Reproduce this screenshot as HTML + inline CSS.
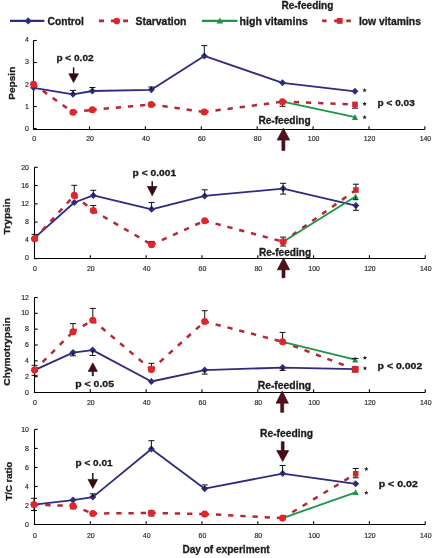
<!DOCTYPE html>
<html><head><meta charset="utf-8"><style>
html,body{margin:0;padding:0;background:#fff;width:435px;height:558px;overflow:hidden}
svg{display:block;will-change:transform}
</style></head><body>
<svg width="435" height="558" viewBox="0 0 435 558" font-family='"Liberation Sans", sans-serif'>
<rect width="435" height="558" fill="#fff"/>
<path d="M10.00 20.90L44.30 20.90" stroke="#2d2c7f" stroke-width="2.1" fill="none" stroke-linejoin="round"/>
<path d="M28.20 17.30L31.80 20.90L28.20 24.50L24.60 20.90Z" fill="#2d2c7f"/>
<text x="47.50" y="24.50" font-size="10.2" font-weight="bold" text-anchor="start" fill="#1b1b1b" stroke="#1b1b1b" stroke-width="0.3" textLength="36.4" lengthAdjust="spacingAndGlyphs">Control</text>
<path d="M98.90 20.90L128.00 20.90" stroke="#b82634" stroke-width="2.6" fill="none" stroke-dasharray="5.1 7" stroke-dashoffset="0"/>
<circle cx="116.80" cy="21.10" r="3.3" fill="#e1252b"/>
<text x="135.50" y="24.50" font-size="10.2" font-weight="bold" text-anchor="start" fill="#1b1b1b" stroke="#1b1b1b" stroke-width="0.3" textLength="51" lengthAdjust="spacingAndGlyphs">Starvation</text>
<path d="M201.90 20.90L237.40 20.90" stroke="#1d9446" stroke-width="2.2" fill="none" stroke-linejoin="round"/>
<path d="M219.80 17.50L223.10 23.40L216.50 23.40Z" fill="#1d9446"/>
<text x="239.60" y="24.50" font-size="10.2" font-weight="bold" text-anchor="start" fill="#1b1b1b" stroke="#1b1b1b" stroke-width="0.3" textLength="68.2" lengthAdjust="spacingAndGlyphs">high vitamins</text>
<path d="M322.10 20.90L351.00 20.90" stroke="#b82634" stroke-width="2.6" fill="none" stroke-dasharray="4.5 7.6" stroke-dashoffset="0"/>
<rect x="336.80" y="18.00" width="5.8" height="5.8" fill="#d0262e"/>
<text x="358.90" y="24.50" font-size="10.2" font-weight="bold" text-anchor="start" fill="#1b1b1b" stroke="#1b1b1b" stroke-width="0.3" textLength="62" lengthAdjust="spacingAndGlyphs">low vitamins</text>
<text x="281.40" y="9.30" font-size="10.2" font-weight="bold" text-anchor="start" fill="#1b1b1b" stroke="#1b1b1b" stroke-width="0.3" textLength="52" lengthAdjust="spacingAndGlyphs">Re-feeding</text>
<path d="M33.5 40.50V129.5H424.90" stroke="#000" stroke-width="1.1" fill="none"/>
<path d="M33.5 128.50H36.70" stroke="#000" stroke-width="1.1"/>
<text transform="translate(28.90 131.10) scale(1.1 1)" font-size="6.3" text-anchor="end" fill="#262626" stroke="#262626" stroke-width="0.15">0</text>
<path d="M33.5 106.50H36.70" stroke="#000" stroke-width="1.1"/>
<text transform="translate(28.90 108.80) scale(1.1 1)" font-size="6.3" text-anchor="end" fill="#262626" stroke="#262626" stroke-width="0.15">1</text>
<path d="M33.5 84.50H36.70" stroke="#000" stroke-width="1.1"/>
<text transform="translate(28.90 86.50) scale(1.1 1)" font-size="6.3" text-anchor="end" fill="#262626" stroke="#262626" stroke-width="0.15">2</text>
<path d="M33.5 62.50H36.70" stroke="#000" stroke-width="1.1"/>
<text transform="translate(28.90 64.20) scale(1.1 1)" font-size="6.3" text-anchor="end" fill="#262626" stroke="#262626" stroke-width="0.15">3</text>
<path d="M33.5 40.50H36.70" stroke="#000" stroke-width="1.1"/>
<text transform="translate(28.90 41.90) scale(1.1 1)" font-size="6.3" text-anchor="end" fill="#262626" stroke="#262626" stroke-width="0.15">4</text>
<text transform="translate(34.10 140.75) scale(1.1 1)" font-size="6.3" text-anchor="middle" fill="#262626" stroke="#262626" stroke-width="0.15">0</text>
<path d="M89.50 129.5V126.30" stroke="#000" stroke-width="1.1"/>
<text transform="translate(90.00 140.75) scale(1.1 1)" font-size="6.3" text-anchor="middle" fill="#262626" stroke="#262626" stroke-width="0.15">20</text>
<path d="M145.40 129.5V126.30" stroke="#000" stroke-width="1.1"/>
<text transform="translate(145.90 140.75) scale(1.1 1)" font-size="6.3" text-anchor="middle" fill="#262626" stroke="#262626" stroke-width="0.15">40</text>
<path d="M201.30 129.5V126.30" stroke="#000" stroke-width="1.1"/>
<text transform="translate(201.80 140.75) scale(1.1 1)" font-size="6.3" text-anchor="middle" fill="#262626" stroke="#262626" stroke-width="0.15">60</text>
<path d="M257.20 129.5V126.30" stroke="#000" stroke-width="1.1"/>
<text transform="translate(257.70 140.75) scale(1.1 1)" font-size="6.3" text-anchor="middle" fill="#262626" stroke="#262626" stroke-width="0.15">80</text>
<path d="M313.10 129.5V126.30" stroke="#000" stroke-width="1.1"/>
<text transform="translate(313.60 140.75) scale(1.1 1)" font-size="6.3" text-anchor="middle" fill="#262626" stroke="#262626" stroke-width="0.15">100</text>
<path d="M369.00 129.5V126.30" stroke="#000" stroke-width="1.1"/>
<text transform="translate(369.50 140.75) scale(1.1 1)" font-size="6.3" text-anchor="middle" fill="#262626" stroke="#262626" stroke-width="0.15">120</text>
<path d="M424.90 129.5V126.30" stroke="#000" stroke-width="1.1"/>
<text transform="translate(425.40 140.75) scale(1.1 1)" font-size="6.3" text-anchor="middle" fill="#262626" stroke="#262626" stroke-width="0.15">140</text>
<text transform="translate(15.20 83.20) rotate(-90)" x="0" y="0" font-size="9.5" font-weight="bold" text-anchor="middle" fill="#1b1b1b" stroke="#1b1b1b" stroke-width="0.3" textLength="33.0" lengthAdjust="spacingAndGlyphs">Pepsin</text>
<path d="M33.60 87.80L73.00 94.30L92.40 91.00L151.30 89.80L204.30 55.90L282.50 82.80L355.00 91.30" stroke="#2d2c7f" stroke-width="1.8" fill="none" stroke-linejoin="round"/>
<path d="M33.60 84.30L37.10 87.80L33.60 91.30L30.10 87.80Z" fill="#2d2c7f"/>
<path d="M73.00 90.80L76.50 94.30L73.00 97.80L69.50 94.30Z" fill="#2d2c7f"/>
<path d="M92.40 87.50L95.90 91.00L92.40 94.50L88.90 91.00Z" fill="#2d2c7f"/>
<path d="M151.30 86.30L154.80 89.80L151.30 93.30L147.80 89.80Z" fill="#2d2c7f"/>
<path d="M204.30 52.40L207.80 55.90L204.30 59.40L200.80 55.90Z" fill="#2d2c7f"/>
<path d="M282.50 79.30L286.00 82.80L282.50 86.30L279.00 82.80Z" fill="#2d2c7f"/>
<path d="M355.00 87.80L358.50 91.30L355.00 94.80L351.50 91.30Z" fill="#2d2c7f"/>
<path d="M73.00 94.30V90.40M70.00 90.40H76.00" stroke="#111" stroke-width="1" fill="none"/>
<path d="M92.40 91.00V87.50M89.40 87.50H95.40" stroke="#111" stroke-width="1" fill="none"/>
<path d="M151.30 89.80V87.00M148.30 87.00H154.30" stroke="#111" stroke-width="1" fill="none"/>
<path d="M204.30 55.90V45.60M201.30 45.60H207.30" stroke="#111" stroke-width="1" fill="none"/>
<path d="M33.60 84.30L73.00 112.30" stroke="#b82634" stroke-width="2.5" fill="none" stroke-dasharray="5.3 6.9" stroke-dashoffset="0.95"/>
<path d="M73.00 112.30L92.40 109.80" stroke="#b82634" stroke-width="2.5" fill="none" stroke-dasharray="5.3 6.9" stroke-dashoffset="0.95"/>
<path d="M92.40 109.80L151.30 104.50" stroke="#b82634" stroke-width="2.5" fill="none" stroke-dasharray="5.3 6.9" stroke-dashoffset="0.95"/>
<path d="M151.30 104.50L204.30 112.00" stroke="#b82634" stroke-width="2.5" fill="none" stroke-dasharray="5.3 6.9" stroke-dashoffset="0.95"/>
<path d="M204.30 112.00L282.50 101.70" stroke="#b82634" stroke-width="2.5" fill="none" stroke-dasharray="5.3 6.9" stroke-dashoffset="0.95"/>
<path d="M282.50 101.70L350.00 104.21" stroke="#b82634" stroke-width="2.5" fill="none" stroke-dasharray="5.3 6.9" stroke-dashoffset="0.95"/>
<path d="M282.50 101.70L355.00 117.20" stroke="#1d9446" stroke-width="1.8" fill="none" stroke-linejoin="round"/>
<path d="M282.50 101.70V106.30M279.50 106.30H285.50" stroke="#111" stroke-width="1" fill="none"/>
<circle cx="33.60" cy="84.30" r="3.55" fill="#e1252b"/>
<circle cx="73.00" cy="112.30" r="3.55" fill="#e1252b"/>
<circle cx="92.40" cy="109.80" r="3.55" fill="#e1252b"/>
<circle cx="151.30" cy="104.50" r="3.55" fill="#e1252b"/>
<circle cx="204.30" cy="112.00" r="3.55" fill="#e1252b"/>
<circle cx="282.50" cy="101.70" r="3.55" fill="#e1252b"/>
<path d="M355.00 114.10L358.10 120.00L351.90 120.00Z" fill="#1d9446"/>
<path d="M355.00 104.40V108.20M352.00 108.20H358.00" stroke="#111" stroke-width="1" fill="none"/>
<rect x="352.20" y="101.60" width="5.6" height="5.6" fill="#d0262e"/>
<path d="M364.60 87.90L365.19 89.49L366.88 89.56L365.55 90.61L366.01 92.24L364.60 91.30L363.19 92.24L363.65 90.61L362.32 89.56L364.01 89.49Z" fill="#1a1a1a"/>
<path d="M364.60 101.50L365.19 103.09L366.88 103.16L365.55 104.21L366.01 105.84L364.60 104.90L363.19 105.84L363.65 104.21L362.32 103.16L364.01 103.09Z" fill="#1a1a1a"/>
<path d="M364.60 114.80L365.19 116.39L366.88 116.46L365.55 117.51L366.01 119.14L364.60 118.20L363.19 119.14L363.65 117.51L362.32 116.46L364.01 116.39Z" fill="#1a1a1a"/>
<text x="377.60" y="106.30" font-size="9.3" font-weight="bold" text-anchor="start" fill="#1b1b1b" stroke="#1b1b1b" stroke-width="0.3" textLength="37.2" lengthAdjust="spacingAndGlyphs">p &lt; 0.03</text>
<text x="56.40" y="60.60" font-size="9.3" font-weight="bold" text-anchor="start" fill="#1b1b1b" stroke="#1b1b1b" stroke-width="0.3" textLength="37.2" lengthAdjust="spacingAndGlyphs">p &lt; 0.02</text>
<rect x="72.90" y="67.40" width="1.4" height="6.80" fill="#111"/>
<path d="M68.80 73.70L78.40 73.70L73.60 82.60Z" fill="#3a0810" stroke="#24040a" stroke-width="0.6" stroke-linejoin="round"/>
<text x="258.40" y="123.70" font-size="10.2" font-weight="bold" text-anchor="start" fill="#1b1b1b" stroke="#1b1b1b" stroke-width="0.3" textLength="52.3" lengthAdjust="spacingAndGlyphs">Re-feeding</text>
<path d="M283.40 128.20L289.70 140.10L284.90 140.10L284.90 150.40L281.90 150.40L281.90 140.10L277.10 140.10Z" fill="#55101b" stroke="#24040a" stroke-width="0.6" stroke-linejoin="round"/>
<path d="M34.5 167.30V258.5H425.24" stroke="#000" stroke-width="1.1" fill="none"/>
<path d="M34.5 258.60H37.70" stroke="#000" stroke-width="1.1"/>
<text transform="translate(28.90 260.30) scale(1.1 1)" font-size="6.3" text-anchor="end" fill="#262626" stroke="#262626" stroke-width="0.15">0</text>
<path d="M34.5 240.34H37.70" stroke="#000" stroke-width="1.1"/>
<text transform="translate(28.90 242.22) scale(1.1 1)" font-size="6.3" text-anchor="end" fill="#262626" stroke="#262626" stroke-width="0.15">4</text>
<path d="M34.5 222.08H37.70" stroke="#000" stroke-width="1.1"/>
<text transform="translate(28.90 224.14) scale(1.1 1)" font-size="6.3" text-anchor="end" fill="#262626" stroke="#262626" stroke-width="0.15">8</text>
<path d="M34.5 203.82H37.70" stroke="#000" stroke-width="1.1"/>
<text transform="translate(28.90 206.06) scale(1.1 1)" font-size="6.3" text-anchor="end" fill="#262626" stroke="#262626" stroke-width="0.15">12</text>
<path d="M34.5 185.56H37.70" stroke="#000" stroke-width="1.1"/>
<text transform="translate(28.90 187.98) scale(1.1 1)" font-size="6.3" text-anchor="end" fill="#262626" stroke="#262626" stroke-width="0.15">16</text>
<path d="M34.5 167.30H37.70" stroke="#000" stroke-width="1.1"/>
<text transform="translate(28.90 169.90) scale(1.1 1)" font-size="6.3" text-anchor="end" fill="#262626" stroke="#262626" stroke-width="0.15">20</text>
<text transform="translate(35.00 270.75) scale(1.1 1)" font-size="6.3" text-anchor="middle" fill="#262626" stroke="#262626" stroke-width="0.15">0</text>
<path d="M90.32 258.5V255.30" stroke="#000" stroke-width="1.1"/>
<text transform="translate(90.82 270.75) scale(1.1 1)" font-size="6.3" text-anchor="middle" fill="#262626" stroke="#262626" stroke-width="0.15">20</text>
<path d="M146.14 258.5V255.30" stroke="#000" stroke-width="1.1"/>
<text transform="translate(146.64 270.75) scale(1.1 1)" font-size="6.3" text-anchor="middle" fill="#262626" stroke="#262626" stroke-width="0.15">40</text>
<path d="M201.96 258.5V255.30" stroke="#000" stroke-width="1.1"/>
<text transform="translate(202.46 270.75) scale(1.1 1)" font-size="6.3" text-anchor="middle" fill="#262626" stroke="#262626" stroke-width="0.15">60</text>
<path d="M257.78 258.5V255.30" stroke="#000" stroke-width="1.1"/>
<text transform="translate(258.28 270.75) scale(1.1 1)" font-size="6.3" text-anchor="middle" fill="#262626" stroke="#262626" stroke-width="0.15">80</text>
<path d="M313.60 258.5V255.30" stroke="#000" stroke-width="1.1"/>
<text transform="translate(314.10 270.75) scale(1.1 1)" font-size="6.3" text-anchor="middle" fill="#262626" stroke="#262626" stroke-width="0.15">100</text>
<path d="M369.42 258.5V255.30" stroke="#000" stroke-width="1.1"/>
<text transform="translate(369.92 270.75) scale(1.1 1)" font-size="6.3" text-anchor="middle" fill="#262626" stroke="#262626" stroke-width="0.15">120</text>
<path d="M425.24 258.5V255.30" stroke="#000" stroke-width="1.1"/>
<text transform="translate(425.74 270.75) scale(1.1 1)" font-size="6.3" text-anchor="middle" fill="#262626" stroke="#262626" stroke-width="0.15">140</text>
<text transform="translate(10.30 216.30) rotate(-90)" x="0" y="0" font-size="9.5" font-weight="bold" text-anchor="middle" fill="#1b1b1b" stroke="#1b1b1b" stroke-width="0.3" textLength="36.2" lengthAdjust="spacingAndGlyphs">Trypsin</text>
<path d="M34.60 237.90L74.30 202.50L93.30 195.40L151.60 209.30L204.70 195.90L283.10 188.60L355.90 205.60" stroke="#2d2c7f" stroke-width="1.8" fill="none" stroke-linejoin="round"/>
<path d="M34.60 234.40L38.10 237.90L34.60 241.40L31.10 237.90Z" fill="#2d2c7f"/>
<path d="M74.30 199.00L77.80 202.50L74.30 206.00L70.80 202.50Z" fill="#2d2c7f"/>
<path d="M93.30 191.90L96.80 195.40L93.30 198.90L89.80 195.40Z" fill="#2d2c7f"/>
<path d="M151.60 205.80L155.10 209.30L151.60 212.80L148.10 209.30Z" fill="#2d2c7f"/>
<path d="M204.70 192.40L208.20 195.90L204.70 199.40L201.20 195.90Z" fill="#2d2c7f"/>
<path d="M283.10 185.10L286.60 188.60L283.10 192.10L279.60 188.60Z" fill="#2d2c7f"/>
<path d="M355.90 202.10L359.40 205.60L355.90 209.10L352.40 205.60Z" fill="#2d2c7f"/>
<path d="M34.60 237.90V234.40M31.60 234.40H37.60" stroke="#111" stroke-width="1" fill="none"/>
<path d="M93.30 195.40V190.30M90.30 190.30H96.30" stroke="#111" stroke-width="1" fill="none"/>
<path d="M151.60 209.30V202.50M148.60 202.50H154.60" stroke="#111" stroke-width="1" fill="none"/>
<path d="M204.70 195.90V189.80M201.70 189.80H207.70" stroke="#111" stroke-width="1" fill="none"/>
<path d="M283.10 188.60V183.30M280.10 183.30H286.10" stroke="#111" stroke-width="1" fill="none"/>
<path d="M283.10 188.60V194.10M280.10 194.10H286.10" stroke="#111" stroke-width="1" fill="none"/>
<path d="M355.90 205.60V210.30M352.90 210.30H358.90" stroke="#111" stroke-width="1" fill="none"/>
<path d="M34.60 238.80L74.30 195.40" stroke="#b82634" stroke-width="2.5" fill="none" stroke-dasharray="5.3 6.9" stroke-dashoffset="0.95"/>
<path d="M74.30 195.40L93.30 210.60" stroke="#b82634" stroke-width="2.5" fill="none" stroke-dasharray="5.3 6.9" stroke-dashoffset="0.95"/>
<path d="M93.30 210.60L151.60 244.70" stroke="#b82634" stroke-width="2.5" fill="none" stroke-dasharray="5.3 6.9" stroke-dashoffset="0.95"/>
<path d="M151.60 244.70L204.70 220.70" stroke="#b82634" stroke-width="2.5" fill="none" stroke-dasharray="5.3 6.9" stroke-dashoffset="0.95"/>
<path d="M204.70 220.70L283.10 241.70" stroke="#b82634" stroke-width="2.5" fill="none" stroke-dasharray="5.3 6.9" stroke-dashoffset="0.95"/>
<path d="M283.10 241.70L355.90 190.00" stroke="#b82634" stroke-width="2.5" fill="none" stroke-dasharray="5.3 6.9" stroke-dashoffset="0.95"/>
<path d="M283.10 241.70L355.60 196.50" stroke="#1d9446" stroke-width="1.8" fill="none" stroke-linejoin="round"/>
<path d="M74.30 195.40V185.30M71.30 185.30H77.30" stroke="#111" stroke-width="1" fill="none"/>
<path d="M93.30 210.60V205.50M90.30 205.50H96.30" stroke="#111" stroke-width="1" fill="none"/>
<path d="M151.60 244.70V241.40M148.60 241.40H154.60" stroke="#111" stroke-width="1" fill="none"/>
<path d="M283.10 241.70V237.10M280.10 237.10H286.10" stroke="#111" stroke-width="1" fill="none"/>
<path d="M283.10 241.70V246.00M280.10 246.00H286.10" stroke="#111" stroke-width="1" fill="none"/>
<circle cx="34.60" cy="238.80" r="3.55" fill="#e1252b"/>
<circle cx="74.30" cy="195.40" r="3.55" fill="#e1252b"/>
<circle cx="93.30" cy="210.60" r="3.55" fill="#e1252b"/>
<circle cx="151.60" cy="244.70" r="3.55" fill="#e1252b"/>
<circle cx="204.70" cy="220.70" r="3.55" fill="#e1252b"/>
<circle cx="283.10" cy="241.70" r="3.55" fill="#e1252b"/>
<path d="M355.60 193.40L358.70 199.30L352.50 199.30Z" fill="#1d9446"/>
<path d="M355.60 196.50V199.70M352.90 199.70H358.30" stroke="#111" stroke-width="1" fill="none"/>
<path d="M355.90 190.00V184.20M352.90 184.20H358.90" stroke="#111" stroke-width="1" fill="none"/>
<rect x="353.10" y="187.20" width="5.6" height="5.6" fill="#d0262e"/>
<text x="132.60" y="176.10" font-size="9.3" font-weight="bold" text-anchor="start" fill="#1b1b1b" stroke="#1b1b1b" stroke-width="0.3" textLength="43.5" lengthAdjust="spacingAndGlyphs">p &lt; 0.001</text>
<rect x="151.50" y="181.20" width="1.4" height="5.80" fill="#111"/>
<path d="M147.40 186.50L157.00 186.50L152.20 195.80Z" fill="#3a0810" stroke="#24040a" stroke-width="0.6" stroke-linejoin="round"/>
<text x="258.90" y="256.10" font-size="10.2" font-weight="bold" text-anchor="start" fill="#1b1b1b" stroke="#1b1b1b" stroke-width="0.3" textLength="52.3" lengthAdjust="spacingAndGlyphs">Re-feeding</text>
<path d="M283.50 258.00L289.70 269.80L285.00 269.80L285.00 277.80L282.00 277.80L282.00 269.80L277.30 269.80Z" fill="#55101b" stroke="#24040a" stroke-width="0.6" stroke-linejoin="round"/>
<path d="M34.5 297.50V392.5H425.24" stroke="#000" stroke-width="1.1" fill="none"/>
<path d="M34.5 392.50H37.70" stroke="#000" stroke-width="1.1"/>
<text transform="translate(28.90 394.65) scale(1.1 1)" font-size="6.3" text-anchor="end" fill="#262626" stroke="#262626" stroke-width="0.15">0</text>
<path d="M34.5 376.67H37.70" stroke="#000" stroke-width="1.1"/>
<text transform="translate(28.90 378.82) scale(1.1 1)" font-size="6.3" text-anchor="end" fill="#262626" stroke="#262626" stroke-width="0.15">2</text>
<path d="M34.5 360.83H37.70" stroke="#000" stroke-width="1.1"/>
<text transform="translate(28.90 362.98) scale(1.1 1)" font-size="6.3" text-anchor="end" fill="#262626" stroke="#262626" stroke-width="0.15">4</text>
<path d="M34.5 345.00H37.70" stroke="#000" stroke-width="1.1"/>
<text transform="translate(28.90 347.15) scale(1.1 1)" font-size="6.3" text-anchor="end" fill="#262626" stroke="#262626" stroke-width="0.15">6</text>
<path d="M34.5 329.16H37.70" stroke="#000" stroke-width="1.1"/>
<text transform="translate(28.90 331.31) scale(1.1 1)" font-size="6.3" text-anchor="end" fill="#262626" stroke="#262626" stroke-width="0.15">8</text>
<path d="M34.5 313.33H37.70" stroke="#000" stroke-width="1.1"/>
<text transform="translate(28.90 315.48) scale(1.1 1)" font-size="6.3" text-anchor="end" fill="#262626" stroke="#262626" stroke-width="0.15">10</text>
<path d="M34.5 297.50H37.70" stroke="#000" stroke-width="1.1"/>
<text transform="translate(28.90 299.65) scale(1.1 1)" font-size="6.3" text-anchor="end" fill="#262626" stroke="#262626" stroke-width="0.15">12</text>
<text transform="translate(35.00 405.15) scale(1.1 1)" font-size="6.3" text-anchor="middle" fill="#262626" stroke="#262626" stroke-width="0.15">0</text>
<path d="M90.32 392.5V389.30" stroke="#000" stroke-width="1.1"/>
<text transform="translate(90.82 405.15) scale(1.1 1)" font-size="6.3" text-anchor="middle" fill="#262626" stroke="#262626" stroke-width="0.15">20</text>
<path d="M146.14 392.5V389.30" stroke="#000" stroke-width="1.1"/>
<text transform="translate(146.64 405.15) scale(1.1 1)" font-size="6.3" text-anchor="middle" fill="#262626" stroke="#262626" stroke-width="0.15">40</text>
<path d="M201.96 392.5V389.30" stroke="#000" stroke-width="1.1"/>
<text transform="translate(202.46 405.15) scale(1.1 1)" font-size="6.3" text-anchor="middle" fill="#262626" stroke="#262626" stroke-width="0.15">60</text>
<path d="M257.78 392.5V389.30" stroke="#000" stroke-width="1.1"/>
<text transform="translate(258.28 405.15) scale(1.1 1)" font-size="6.3" text-anchor="middle" fill="#262626" stroke="#262626" stroke-width="0.15">80</text>
<path d="M313.60 392.5V389.30" stroke="#000" stroke-width="1.1"/>
<text transform="translate(314.10 405.15) scale(1.1 1)" font-size="6.3" text-anchor="middle" fill="#262626" stroke="#262626" stroke-width="0.15">100</text>
<path d="M369.42 392.5V389.30" stroke="#000" stroke-width="1.1"/>
<text transform="translate(369.92 405.15) scale(1.1 1)" font-size="6.3" text-anchor="middle" fill="#262626" stroke="#262626" stroke-width="0.15">120</text>
<path d="M425.24 392.5V389.30" stroke="#000" stroke-width="1.1"/>
<text transform="translate(425.74 405.15) scale(1.1 1)" font-size="6.3" text-anchor="middle" fill="#262626" stroke="#262626" stroke-width="0.15">140</text>
<text transform="translate(10.20 351.50) rotate(-90)" x="0" y="0" font-size="9.5" font-weight="bold" text-anchor="middle" fill="#1b1b1b" stroke="#1b1b1b" stroke-width="0.3" textLength="68.3" lengthAdjust="spacingAndGlyphs">Chymotrypsin</text>
<path d="M34.60 370.10L73.00 352.60L92.60 350.10L151.40 381.50L204.70 370.10L282.60 367.60L355.20 369.10" stroke="#2d2c7f" stroke-width="1.8" fill="none" stroke-linejoin="round"/>
<path d="M34.60 366.60L38.10 370.10L34.60 373.60L31.10 370.10Z" fill="#2d2c7f"/>
<path d="M73.00 349.10L76.50 352.60L73.00 356.10L69.50 352.60Z" fill="#2d2c7f"/>
<path d="M92.60 346.60L96.10 350.10L92.60 353.60L89.10 350.10Z" fill="#2d2c7f"/>
<path d="M151.40 378.00L154.90 381.50L151.40 385.00L147.90 381.50Z" fill="#2d2c7f"/>
<path d="M204.70 366.60L208.20 370.10L204.70 373.60L201.20 370.10Z" fill="#2d2c7f"/>
<path d="M282.60 364.10L286.10 367.60L282.60 371.10L279.10 367.60Z" fill="#2d2c7f"/>
<path d="M355.20 365.60L358.70 369.10L355.20 372.60L351.70 369.10Z" fill="#2d2c7f"/>
<path d="M34.60 370.10V365.30M31.60 365.30H37.60" stroke="#111" stroke-width="1" fill="none"/>
<path d="M34.60 370.10V375.40M31.60 375.40H37.60" stroke="#111" stroke-width="1" fill="none"/>
<path d="M73.00 352.60V355.80M70.00 355.80H76.00" stroke="#111" stroke-width="1" fill="none"/>
<path d="M92.60 350.10V355.50M89.60 355.50H95.60" stroke="#111" stroke-width="1" fill="none"/>
<path d="M204.70 370.10V374.10M201.70 374.10H207.70" stroke="#111" stroke-width="1" fill="none"/>
<path d="M282.60 367.60V370.40M279.60 370.40H285.60" stroke="#111" stroke-width="1" fill="none"/>
<path d="M34.60 370.10L73.00 331.70" stroke="#b82634" stroke-width="2.5" fill="none" stroke-dasharray="5.3 6.9" stroke-dashoffset="0.95"/>
<path d="M73.00 331.70L92.80 320.30" stroke="#b82634" stroke-width="2.5" fill="none" stroke-dasharray="5.3 6.9" stroke-dashoffset="0.95"/>
<path d="M92.80 320.30L151.40 369.60" stroke="#b82634" stroke-width="2.5" fill="none" stroke-dasharray="5.3 6.9" stroke-dashoffset="0.95"/>
<path d="M151.40 369.60L204.70 321.50" stroke="#b82634" stroke-width="2.5" fill="none" stroke-dasharray="5.3 6.9" stroke-dashoffset="0.95"/>
<path d="M204.70 321.50L282.60 341.80" stroke="#b82634" stroke-width="2.5" fill="none" stroke-dasharray="5.3 6.9" stroke-dashoffset="0.95"/>
<path d="M282.60 341.80L349.59 367.27" stroke="#b82634" stroke-width="2.5" fill="none" stroke-dasharray="5.3 6.9" stroke-dashoffset="0.95"/>
<path d="M282.60 341.80L355.20 359.60" stroke="#1d9446" stroke-width="1.8" fill="none" stroke-linejoin="round"/>
<path d="M73.00 331.70V323.60M70.00 323.60H76.00" stroke="#111" stroke-width="1" fill="none"/>
<path d="M92.80 320.30V308.40M89.80 308.40H95.80" stroke="#111" stroke-width="1" fill="none"/>
<path d="M151.40 369.60V363.30M148.40 363.30H154.40" stroke="#111" stroke-width="1" fill="none"/>
<path d="M204.70 321.50V310.70M201.70 310.70H207.70" stroke="#111" stroke-width="1" fill="none"/>
<path d="M282.60 341.80V332.40M279.60 332.40H285.60" stroke="#111" stroke-width="1" fill="none"/>
<circle cx="34.60" cy="370.10" r="3.55" fill="#e1252b"/>
<circle cx="73.00" cy="331.70" r="3.55" fill="#e1252b"/>
<circle cx="92.80" cy="320.30" r="3.55" fill="#e1252b"/>
<circle cx="151.40" cy="369.60" r="3.55" fill="#e1252b"/>
<circle cx="204.70" cy="321.50" r="3.55" fill="#e1252b"/>
<circle cx="282.60" cy="341.80" r="3.55" fill="#e1252b"/>
<path d="M355.20 356.50L358.30 362.40L352.10 362.40Z" fill="#1d9446"/>
<path d="M355.20 359.60V358.40M351.80 358.40H358.60" stroke="#111" stroke-width="1" fill="none"/>
<rect x="351.80" y="366.00" width="6.8" height="6.8" fill="#d0262e"/>
<path d="M364.90 355.40L365.49 356.99L367.18 357.06L365.85 358.11L366.31 359.74L364.90 358.80L363.49 359.74L363.95 358.11L362.62 357.06L364.31 356.99Z" fill="#1a1a1a"/>
<path d="M364.90 365.90L365.49 367.49L367.18 367.56L365.85 368.61L366.31 370.24L364.90 369.30L363.49 370.24L363.95 368.61L362.62 367.56L364.31 367.49Z" fill="#1a1a1a"/>
<text x="377.60" y="368.50" font-size="9.3" font-weight="bold" text-anchor="start" fill="#1b1b1b" stroke="#1b1b1b" stroke-width="0.3" textLength="44.7" lengthAdjust="spacingAndGlyphs">p &lt; 0.002</text>
<path d="M92.80 362.80L97.40 371.40L93.40 371.40L93.40 375.90L92.20 375.90L92.20 371.40L88.20 371.40Z" fill="#4a0c16" stroke="#24040a" stroke-width="0.6" stroke-linejoin="round"/>
<text x="75.20" y="386.80" font-size="9.3" font-weight="bold" text-anchor="start" fill="#1b1b1b" stroke="#1b1b1b" stroke-width="0.3" textLength="38.8" lengthAdjust="spacingAndGlyphs">p &lt; 0.05</text>
<text x="257.70" y="389.20" font-size="10.2" font-weight="bold" text-anchor="start" fill="#1b1b1b" stroke="#1b1b1b" stroke-width="0.3" textLength="53.5" lengthAdjust="spacingAndGlyphs">Re-feeding</text>
<path d="M282.20 391.10L288.40 403.20L283.70 403.20L283.70 412.30L280.70 412.30L280.70 403.20L276.00 403.20Z" fill="#55101b" stroke="#24040a" stroke-width="0.6" stroke-linejoin="round"/>
<path d="M34.5 429.40V524.5H425.24" stroke="#000" stroke-width="1.1" fill="none"/>
<path d="M34.5 524.50H37.70" stroke="#000" stroke-width="1.1"/>
<text transform="translate(28.90 526.65) scale(1.1 1)" font-size="6.3" text-anchor="end" fill="#262626" stroke="#262626" stroke-width="0.15">0</text>
<path d="M34.5 505.48H37.70" stroke="#000" stroke-width="1.1"/>
<text transform="translate(28.90 507.63) scale(1.1 1)" font-size="6.3" text-anchor="end" fill="#262626" stroke="#262626" stroke-width="0.15">2</text>
<path d="M34.5 486.46H37.70" stroke="#000" stroke-width="1.1"/>
<text transform="translate(28.90 488.61) scale(1.1 1)" font-size="6.3" text-anchor="end" fill="#262626" stroke="#262626" stroke-width="0.15">4</text>
<path d="M34.5 467.44H37.70" stroke="#000" stroke-width="1.1"/>
<text transform="translate(28.90 469.59) scale(1.1 1)" font-size="6.3" text-anchor="end" fill="#262626" stroke="#262626" stroke-width="0.15">6</text>
<path d="M34.5 448.42H37.70" stroke="#000" stroke-width="1.1"/>
<text transform="translate(28.90 450.57) scale(1.1 1)" font-size="6.3" text-anchor="end" fill="#262626" stroke="#262626" stroke-width="0.15">8</text>
<path d="M34.5 429.40H37.70" stroke="#000" stroke-width="1.1"/>
<text transform="translate(28.90 431.55) scale(1.1 1)" font-size="6.3" text-anchor="end" fill="#262626" stroke="#262626" stroke-width="0.15">10</text>
<text transform="translate(35.00 537.85) scale(1.1 1)" font-size="6.3" text-anchor="middle" fill="#262626" stroke="#262626" stroke-width="0.15">0</text>
<path d="M90.32 524.5V521.30" stroke="#000" stroke-width="1.1"/>
<text transform="translate(90.82 537.85) scale(1.1 1)" font-size="6.3" text-anchor="middle" fill="#262626" stroke="#262626" stroke-width="0.15">20</text>
<path d="M146.14 524.5V521.30" stroke="#000" stroke-width="1.1"/>
<text transform="translate(146.64 537.85) scale(1.1 1)" font-size="6.3" text-anchor="middle" fill="#262626" stroke="#262626" stroke-width="0.15">40</text>
<path d="M201.96 524.5V521.30" stroke="#000" stroke-width="1.1"/>
<text transform="translate(202.46 537.85) scale(1.1 1)" font-size="6.3" text-anchor="middle" fill="#262626" stroke="#262626" stroke-width="0.15">60</text>
<path d="M257.78 524.5V521.30" stroke="#000" stroke-width="1.1"/>
<text transform="translate(258.28 537.85) scale(1.1 1)" font-size="6.3" text-anchor="middle" fill="#262626" stroke="#262626" stroke-width="0.15">80</text>
<path d="M313.60 524.5V521.30" stroke="#000" stroke-width="1.1"/>
<text transform="translate(314.10 537.85) scale(1.1 1)" font-size="6.3" text-anchor="middle" fill="#262626" stroke="#262626" stroke-width="0.15">100</text>
<path d="M369.42 524.5V521.30" stroke="#000" stroke-width="1.1"/>
<text transform="translate(369.92 537.85) scale(1.1 1)" font-size="6.3" text-anchor="middle" fill="#262626" stroke="#262626" stroke-width="0.15">120</text>
<path d="M425.24 524.5V521.30" stroke="#000" stroke-width="1.1"/>
<text transform="translate(425.74 537.85) scale(1.1 1)" font-size="6.3" text-anchor="middle" fill="#262626" stroke="#262626" stroke-width="0.15">140</text>
<text transform="translate(12.00 481.20) rotate(-90)" x="0" y="0" font-size="9.5" font-weight="bold" text-anchor="middle" fill="#1b1b1b" stroke="#1b1b1b" stroke-width="0.3" textLength="38.8" lengthAdjust="spacingAndGlyphs">T/C ratio</text>
<path d="M34.00 504.60L73.00 500.10L92.80 497.10L151.40 449.00L204.70 488.70L282.60 473.60L355.70 483.80" stroke="#2d2c7f" stroke-width="1.8" fill="none" stroke-linejoin="round"/>
<path d="M34.00 501.10L37.50 504.60L34.00 508.10L30.50 504.60Z" fill="#2d2c7f"/>
<path d="M73.00 496.60L76.50 500.10L73.00 503.60L69.50 500.10Z" fill="#2d2c7f"/>
<path d="M92.80 493.60L96.30 497.10L92.80 500.60L89.30 497.10Z" fill="#2d2c7f"/>
<path d="M151.40 445.50L154.90 449.00L151.40 452.50L147.90 449.00Z" fill="#2d2c7f"/>
<path d="M204.70 485.20L208.20 488.70L204.70 492.20L201.20 488.70Z" fill="#2d2c7f"/>
<path d="M282.60 470.10L286.10 473.60L282.60 477.10L279.10 473.60Z" fill="#2d2c7f"/>
<path d="M355.70 480.30L359.20 483.80L355.70 487.30L352.20 483.80Z" fill="#2d2c7f"/>
<path d="M34.00 504.60V498.30M31.00 498.30H37.00" stroke="#111" stroke-width="1" fill="none"/>
<path d="M34.00 504.60V510.50M31.00 510.50H37.00" stroke="#111" stroke-width="1" fill="none"/>
<path d="M92.80 497.10V493.80M89.80 493.80H95.80" stroke="#111" stroke-width="1" fill="none"/>
<path d="M151.40 449.00V440.70M148.40 440.70H154.40" stroke="#111" stroke-width="1" fill="none"/>
<path d="M204.70 488.70V484.90M201.70 484.90H207.70" stroke="#111" stroke-width="1" fill="none"/>
<path d="M282.60 473.60V465.50M279.60 465.50H285.60" stroke="#111" stroke-width="1" fill="none"/>
<path d="M34.00 504.60L73.00 505.90" stroke="#b82634" stroke-width="2.5" fill="none" stroke-dasharray="5.3 6.9" stroke-dashoffset="0.95"/>
<path d="M73.00 505.90L92.80 513.50" stroke="#b82634" stroke-width="2.5" fill="none" stroke-dasharray="5.3 6.9" stroke-dashoffset="0.95"/>
<path d="M92.80 513.50L151.40 513.00" stroke="#b82634" stroke-width="2.5" fill="none" stroke-dasharray="5.3 6.9" stroke-dashoffset="0.95"/>
<path d="M151.40 513.00L204.70 514.00" stroke="#b82634" stroke-width="2.5" fill="none" stroke-dasharray="5.3 6.9" stroke-dashoffset="0.95"/>
<path d="M204.70 514.00L282.60 518.10" stroke="#b82634" stroke-width="2.5" fill="none" stroke-dasharray="5.3 6.9" stroke-dashoffset="0.95"/>
<path d="M282.60 518.10L355.70 473.80" stroke="#b82634" stroke-width="2.5" fill="none" stroke-dasharray="5.3 6.9" stroke-dashoffset="0.95"/>
<path d="M282.60 518.10L355.70 492.30" stroke="#1d9446" stroke-width="1.8" fill="none" stroke-linejoin="round"/>
<path d="M73.00 505.90V508.90M70.00 508.90H76.00" stroke="#111" stroke-width="1" fill="none"/>
<path d="M151.40 513.00V510.50M148.40 510.50H154.40" stroke="#111" stroke-width="1" fill="none"/>
<path d="M151.40 513.00V516.00M148.40 516.00H154.40" stroke="#111" stroke-width="1" fill="none"/>
<circle cx="34.00" cy="504.60" r="3.55" fill="#e1252b"/>
<circle cx="73.00" cy="505.90" r="3.55" fill="#e1252b"/>
<circle cx="92.80" cy="513.50" r="3.55" fill="#e1252b"/>
<circle cx="151.40" cy="513.00" r="3.55" fill="#e1252b"/>
<circle cx="204.70" cy="514.00" r="3.55" fill="#e1252b"/>
<circle cx="282.60" cy="518.10" r="3.55" fill="#e1252b"/>
<path d="M355.70 489.20L358.80 495.10L352.60 495.10Z" fill="#1d9446"/>
<path d="M355.70 473.80V468.50M352.70 468.50H358.70" stroke="#111" stroke-width="1" fill="none"/>
<path d="M355.70 473.80V477.80M352.70 477.80H358.70" stroke="#111" stroke-width="1" fill="none"/>
<rect x="352.90" y="471.00" width="5.6" height="5.6" fill="#d0262e"/>
<path d="M366.30 466.60L366.89 468.19L368.58 468.26L367.25 469.31L367.71 470.94L366.30 470.00L364.89 470.94L365.35 469.31L364.02 468.26L365.71 468.19Z" fill="#1a1a1a"/>
<path d="M366.30 490.40L366.89 491.99L368.58 492.06L367.25 493.11L367.71 494.74L366.30 493.80L364.89 494.74L365.35 493.11L364.02 492.06L365.71 491.99Z" fill="#1a1a1a"/>
<text x="378.70" y="487.30" font-size="9.3" font-weight="bold" text-anchor="start" fill="#1b1b1b" stroke="#1b1b1b" stroke-width="0.3" textLength="39.1" lengthAdjust="spacingAndGlyphs">p &lt; 0.02</text>
<text x="75.50" y="465.80" font-size="9.3" font-weight="bold" text-anchor="start" fill="#1b1b1b" stroke="#1b1b1b" stroke-width="0.3" textLength="37.1" lengthAdjust="spacingAndGlyphs">p &lt; 0.01</text>
<rect x="92.10" y="473.00" width="1.4" height="6.90" fill="#111"/>
<path d="M88.00 479.40L97.60 479.40L92.80 488.40Z" fill="#3a0810" stroke="#24040a" stroke-width="0.6" stroke-linejoin="round"/>
<text x="260.00" y="436.60" font-size="10.2" font-weight="bold" text-anchor="start" fill="#1b1b1b" stroke="#1b1b1b" stroke-width="0.3" textLength="53.1" lengthAdjust="spacingAndGlyphs">Re-feeding</text>
<path d="M282.70 461.50L288.70 450.60L284.10 450.60L284.10 441.70L281.30 441.70L281.30 450.60L276.70 450.60Z" fill="#4a0c16" stroke="#24040a" stroke-width="0.6" stroke-linejoin="round"/>
<text x="182.40" y="552.90" font-size="10.2" font-weight="bold" text-anchor="start" fill="#1b1b1b" stroke="#1b1b1b" stroke-width="0.3" textLength="87.3" lengthAdjust="spacingAndGlyphs">Day of experiment</text>
</svg>
</body></html>
